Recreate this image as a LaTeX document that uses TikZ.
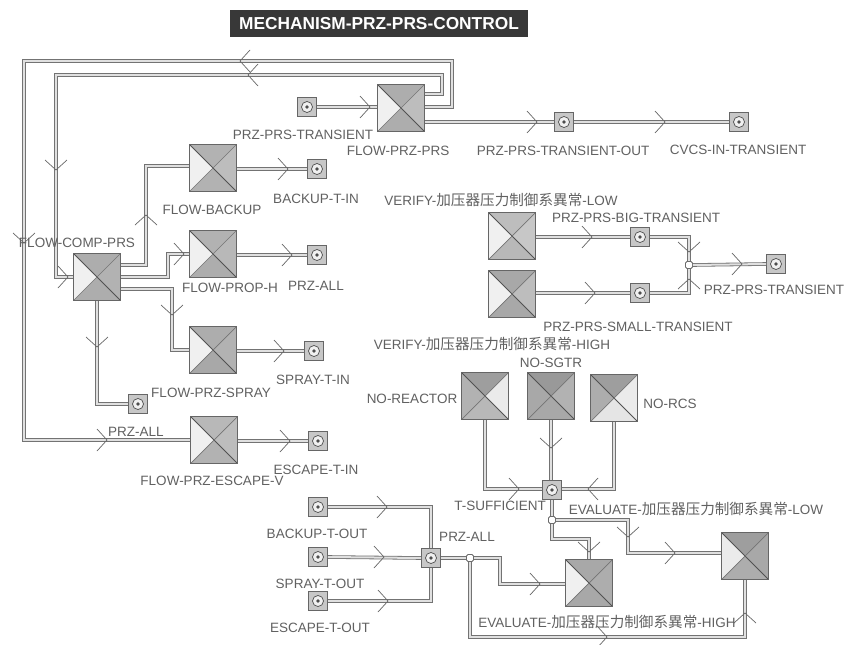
\documentclass[tikz,border=0pt]{standalone}
\usepackage{fontspec}
\setmainfont{Liberation Sans}
\newfontfamily\cjk{Noto Sans CJK SC}
\newcommand\cjktext[1]{{\cjk\fontsize{14.6}{16}\selectfont #1}}
\begin{document}
\begin{tikzpicture}[x=1pt,y=-1pt,
  quad/.style n args={4}{draw=black!60, line width=1.1pt, minimum size=47pt, inner sep=0pt,
    path picture={
      \fill[black!#1] (path picture bounding box.north west) -- (path picture bounding box.center) -- (path picture bounding box.south west) -- cycle;
      \fill[black!#2] (path picture bounding box.north west) -- (path picture bounding box.center) -- (path picture bounding box.north east) -- cycle;
      \fill[black!#3] (path picture bounding box.north east) -- (path picture bounding box.center) -- (path picture bounding box.south east) -- cycle;
      \fill[black!#4] (path picture bounding box.south west) -- (path picture bounding box.center) -- (path picture bounding box.south east) -- cycle;
      \draw[black!68, line width=0.9pt] (path picture bounding box.north west) -- (path picture bounding box.south east);
      \draw[black!55, line width=0.7pt] (path picture bounding box.north east) -- (path picture bounding box.south west);
    }},
  term/.style={draw=black!60, line width=0.9pt, fill=black!22, minimum size=19pt, inner sep=0pt,
    path picture={
      \draw[black!70, line width=0.7pt, fill=black!6] (path picture bounding box.center) circle (5.5pt);
      \fill[black!70] (path picture bounding box.center) circle (1.8pt);
    }},
  junc/.style={draw=black!58, line width=0.8pt, fill=white, minimum size=7pt, inner sep=0pt, rounded corners=1.5pt},
  conn/.style={draw=black!55, line width=0.8pt, double=black!12, double distance=2pt},
  chev/.style={draw=black!60, line width=0.7pt},
  lbl/.style={font=\fontsize{13.5}{15}\selectfont, text=black!62, inner sep=0pt, text height=9.7pt, text depth=0pt},
  banner/.style={fill=black!78, text=white, font=\fontsize{17.3}{19}\selectfont\bfseries, minimum width=298pt, minimum height=27pt, inner sep=0pt},
  chevr/.pic={\draw[chev] (-10,-11) -- (0,0) -- (-10,11);},
  chevl/.pic={\draw[chev] (10,-11) -- (0,0) -- (10,11);},
  chevd/.pic={\draw[chev] (-11,-10) -- (0,0) -- (11,-10);},
  chevu/.pic={\draw[chev] (-11,10) -- (0,0) -- (11,10);}
]
\useasboundingbox (0,0) rectangle (844,645);
\fill[white] (0,0) rectangle (844,645);

% title banner
\node[banner] (ttl) at (379,23.5) {MECHANISM-PRZ-PRS-CONTROL};

% process boxes: fills of the left, top, right and bottom quarters
\node[quad={6}{32}{26}{32}] (fpp) at (401,108) {};
\node[quad={6}{30}{26}{30}] (fbk) at (213,168) {};
\node[quad={6}{32}{30}{32}] (fcp) at (97,277) {};
\node[quad={6}{30}{28}{32}] (fph) at (213,254) {};
\node[quad={6}{32}{30}{34}] (fsp) at (213,350) {};
\node[quad={6}{28}{26}{30}] (fev) at (214,440) {};
\node[quad={6}{26}{22}{28}] (vlo) at (512,236) {};
\node[quad={6}{34}{26}{34}] (vhi) at (512,294) {};
\node[quad={30}{38}{8}{28}] (nre) at (485,396) {};
\node[quad={34}{40}{30}{34}] (nsg) at (551,396) {};
\node[quad={32}{38}{8}{10}] (nrc) at (614,398) {};
\node[quad={6}{34}{32}{34}] (ehi) at (589,583) {};
\node[quad={8}{38}{34}{32}] (elo) at (745,556) {};

% terminals
\node[term] (tpt) at (307,107) {};
\node[term] (tpo) at (564,122) {};
\node[term] (tcv) at (739,122) {};
\node[term] (tbi) at (317,169) {};
\node[term] (tpa) at (317,255) {};
\node[term] (tsi) at (314,351) {};
\node[term] (tfc) at (138,404) {};
\node[term] (tei) at (318,441) {};
\node[term] (tbg) at (640,237) {};
\node[term] (tsm) at (640,293) {};
\node[term] (tpr) at (776,264) {};
\node[term] (tsf) at (552,490) {};
\node[term] (tbo) at (318,507) {};
\node[term] (tso) at (318,557) {};
\node[term] (teo) at (318,601) {};
\node[term] (tal) at (431,558) {};

% junctions
\node[junc] (jv) at (689,265) {};
\node[junc] (js) at (552,520) {};
\node[junc] (ja) at (470,558) {};

% connectors
\draw[conn] (fpp.east |- 0,107) -- (452,107) -- (452,61) -- (24,61) -- (24,440) -- (fev.west);
\draw[conn] (fpp.east |- 0,94) -- (442,94) -- (442,75) -- (56,75) -- (56,277) -- (fcp.west);
\draw[conn] (tpt.east) -- (fpp.west |- tpt.east);
\draw[conn] (fpp.east |- 0,122) -- (tpo.west);
\draw[conn] (tpo.east) -- (tcv.west);
\draw[conn] (fcp.east |- 0,265) -- (146,265) -- (146,166) -- (fbk.west |- 0,166);
\draw[conn] (fbk.east |- tbi.west) -- (tbi.west);
\draw[conn] (fcp.east |- 0,277) -- (168,277) -- (168,254) -- (fph.west);
\draw[conn] (fcp.east |- 0,289) -- (172,289) -- (172,350) -- (fsp.west);
\draw[conn] (fcp.south) -- (97,404) -- (tfc.west);
\draw[conn] (fph.east |- tpa.west) -- (tpa.west);
\draw[conn] (fsp.east |- tsi.west) -- (tsi.west);
\draw[conn] (fev.east |- tei.west) -- (tei.west);
\draw[conn] (vlo.east |- tbg.west) -- (tbg.west);
\draw[conn] (tbg.east) -- (689,237) -- (jv.north);
\draw[conn] (vhi.east |- tsm.west) -- (tsm.west);
\draw[conn] (tsm.east) -- (689,293) -- (jv.south);
\draw[conn] (jv.east) -- (tpr.west);
\draw[conn] (nre.south) -- (485,489) -- (tsf.west |- 0,489);
\draw[conn] (nsg.south) -- (tsf.north -| nsg.south);
\draw[conn] (nrc.south) -- (614,489) -- (tsf.east |- 0,489);
\draw[conn] (tsf.south) -- (js.north);
\draw[conn] (js.east) -- (628,520) -- (628,553) -- (elo.west |- 0,553);
\draw[conn] (js.south) -- (552,539) -- (589,539) -- (ehi.north);
\draw[conn] (tbo.east) -- (431,507) -- (tal.north);
\draw[conn] (tso.east) -- (tal.west);
\draw[conn] (teo.east) -- (431,601) -- (tal.south);
\draw[conn] (tal.east) -- (ja.west);
\draw[conn] (ja.east) -- (500,558) -- (500,584) -- (ehi.west |- 0,584);
\draw[conn] (ja.south) -- (470,637) -- (745,637) -- (elo.south);

% flow direction marks
\pic at (240,61) {chevl};
\pic at (248,75) {chevl};
\pic at (24,243) {chevd};
\pic at (107,440) {chevr};
\pic at (56,170) {chevd};
\pic at (68,277) {chevr};
\pic at (370,107) {chevr};
\pic at (537,122) {chevr};
\pic at (665,122) {chevr};
\pic at (146,215) {chevu};
\pic at (288,169) {chevr};
\pic at (184,254) {chevr};
\pic at (172,315) {chevd};
\pic at (97,347) {chevd};
\pic at (292,255) {chevr};
\pic at (284,351) {chevr};
\pic at (290,441) {chevr};
\pic at (592,237) {chevr};
\pic at (689,252) {chevd};
\pic at (595,293) {chevr};
\pic at (689,279) {chevu};
\pic at (742,264) {chevr};
\pic at (519,489) {chevr};
\pic at (551,448) {chevd};
\pic at (588,489) {chevl};
\pic at (628,537) {chevd};
\pic at (675,553) {chevr};
\pic at (589,552) {chevd};
\pic at (387,507) {chevr};
\pic at (384,557) {chevr};
\pic at (388,601) {chevr};
\pic at (540,584) {chevr};
\pic at (607,637) {chevr};
\pic at (745,613) {chevu};

% labels
\node[lbl] (l1) at (303,135) {PRZ-PRS-TRANSIENT};
\node[lbl] (l2) at (398,151) {FLOW-PRZ-PRS};
\node[lbl] (l3) at (563,151) {PRZ-PRS-TRANSIENT-OUT};
\node[lbl] (l4) at (738,150) {CVCS-IN-TRANSIENT};
\node[lbl] (l5) at (316,199) {BACKUP-T-IN};
\node[lbl] (l6) at (212,210) {FLOW-BACKUP};
\node[lbl] (l7) at (77,243) {FLOW-COMP-PRS};
\node[lbl] (l8) at (230,288) {FLOW-PROP-H};
\node[lbl] (l9) at (316,286) {PRZ-ALL};
\node[lbl] (l10) at (313,380) {SPRAY-T-IN};
\node[lbl] (l11) at (211,393) {FLOW-PRZ-SPRAY};
\node[lbl] (l12) at (136,432) {PRZ-ALL};
\node[lbl] (l13) at (212,481) {FLOW-PRZ-ESCAPE-V};
\node[lbl] (l14) at (316,470) {ESCAPE-T-IN};
\node[lbl] (l15) at (501,201) {VERIFY-\cjktext{加压器压力制御系異常}-LOW};
\node[lbl] (l16) at (636,218) {PRZ-PRS-BIG-TRANSIENT};
\node[lbl] (l17) at (774,290) {PRZ-PRS-TRANSIENT};
\node[lbl] (l18) at (638,327) {PRZ-PRS-SMALL-TRANSIENT};
\node[lbl] (l19) at (492,345) {VERIFY-\cjktext{加压器压力制御系異常}-HIGH};
\node[lbl] (l20) at (551,363) {NO-SGTR};
\node[lbl] (l21) at (412,399) {NO-REACTOR};
\node[lbl] (l22) at (670,404) {NO-RCS};
\node[lbl] (l23) at (500,506) {T-SUFFICIENT};
\node[lbl] (l24) at (696,510) {EVALUATE-\cjktext{加压器压力制御系異常}-LOW};
\node[lbl] (l25) at (317,534) {BACKUP-T-OUT};
\node[lbl] (l26) at (467,537) {PRZ-ALL};
\node[lbl] (l27) at (320,584) {SPRAY-T-OUT};
\node[lbl] (l28) at (320,628) {ESCAPE-T-OUT};
\node[lbl] (l29) at (607,623) {EVALUATE-\cjktext{加压器压力制御系異常}-HIGH};
\end{tikzpicture}
\end{document}
